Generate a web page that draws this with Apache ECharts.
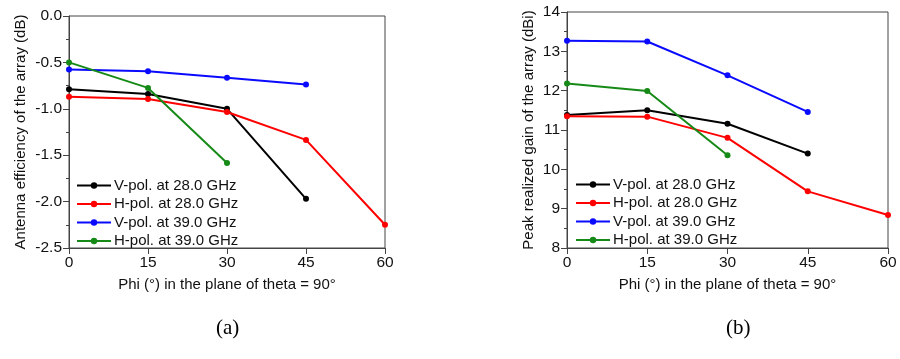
<!DOCTYPE html>
<html>
<head>
<meta charset="utf-8">
<script src="https://cdn.jsdelivr.net/npm/echarts@6/dist/echarts.min.js"></script>
<style>
html,body{margin:0;padding:0;background:#fff;}
#chart{width:900px;height:359px;}
</style>
</head>
<body>
<div id="chart"></div>
<script>
// ---- data ----
var phi = [0, 15, 30, 45, 60];
var seriesNames = ['V-pol. at 28.0 GHz', 'H-pol. at 28.0 GHz', 'V-pol. at 39.0 GHz', 'H-pol. at 39.0 GHz'];
// (a) Antenna efficiency (dB)
var effV28 = [-0.79, -0.84, -1.00, -1.97];
var effH28 = [-0.87, -0.895, -1.035, -1.335, -2.25];
var effV39 = [-0.577, -0.595, -0.666, -0.738];
var effH39 = [-0.50, -0.775, -1.585];
// (b) Peak realized gain (dBi)
var gainV28 = [11.38, 11.50, 11.16, 10.40];
var gainH28 = [11.35, 11.34, 10.80, 9.44, 8.84];
var gainV39 = [13.27, 13.25, 12.39, 11.46];
var gainH39 = [12.18, 11.99, 10.36];
var yTicksA = [-2.5, -2.0, -1.5, -1.0, -0.5, 0.0];
var yTicksB = [8, 9, 10, 11, 12, 13, 14];
var captions = ['(a)', '(b)'];

var colors = ['#000000', '#ff0000', '#0a0aff', '#168a16'];
var FONT = 'Liberation Sans, Arial, sans-serif';

function pairs(vals) {
  return vals.map(function (v, i) { return [phi[i], v]; });
}
function mkSeries(name, vals, idx, gi) {
  return {
    name: name, type: 'line', xAxisIndex: gi, yAxisIndex: gi,
    data: pairs(vals), symbol: 'circle', symbolSize: 6,
    lineStyle: { width: 2, color: colors[idx] },
    itemStyle: { color: colors[idx] },
    emphasis: { disabled: true }, animation: false, z: 3
  };
}
var axisCommon = {
  axisLine: { show: true, onZero: false, lineStyle: { color: '#444', width: 1 } },
  axisTick: { show: true, inside: false, length: 6, lineStyle: { color: '#444' } },
  splitLine: { show: false },
  axisLabel: { color: '#111', fontSize: 15.5, fontFamily: FONT, margin: 7 },
  nameTextStyle: { color: '#111', fontSize: 15, fontFamily: FONT }
};
function xAx(gi) {
  return Object.assign({}, axisCommon, {
    type: 'value', gridIndex: gi, min: phi[0], max: phi[4], interval: 15,
    name: 'Phi (°) in the plane of theta = 90°', nameLocation: 'middle', nameGap: 29
  });
}
function yAx(gi, ticks, name, gap, fmt) {
  return Object.assign({}, axisCommon, {
    type: 'value', gridIndex: gi, min: ticks[0], max: ticks[ticks.length - 1],
    interval: ticks[1] - ticks[0],
    minorTick: { show: true, splitNumber: 2, length: 3, lineStyle: { color: '#444' } },
    axisLabel: Object.assign({}, axisCommon.axisLabel, { formatter: fmt }),
    name: name, nameLocation: 'middle', nameRotate: 90, nameGap: gap
  });
}
var legendCommon = {
  orient: 'vertical', itemWidth: 34, itemHeight: 8, itemGap: 0.5,
  textStyle: { color: '#111', fontSize: 15, lineHeight: 18, fontFamily: FONT, padding: [0, 0, 0, -2] },
  data: seriesNames, selectedMode: false, padding: 0
};

var chart = echarts.init(document.getElementById('chart'), null, { renderer: 'canvas' });
chart.setOption({
  backgroundColor: '#fff',
  animation: false,
  grid: [
    { left: 69, right: 515, top: 16, bottom: 111, show: true, borderColor: '#444', borderWidth: 1 },
    { left: 567, right: 12, top: 12, bottom: 111, show: true, borderColor: '#444', borderWidth: 1 }
  ],
  xAxis: [xAx(0), xAx(1)],
  yAxis: [
    yAx(0, yTicksA, 'Antenna efficiency of the array (dB)', 41, function (v) { return v.toFixed(1); }),
    yAx(1, yTicksB, 'Peak realized gain of the array (dBi)', 31, function (v) { return String(v); })
  ],
  legend: [
    Object.assign({}, legendCommon, { left: 76, top: 176.5 }),
    Object.assign({}, legendCommon, { left: 575, top: 175.5 })
  ],
  series: [
    mkSeries(seriesNames[0], effV28, 0, 0),
    mkSeries(seriesNames[1], effH28, 1, 0),
    mkSeries(seriesNames[2], effV39, 2, 0),
    mkSeries(seriesNames[3], effH39, 3, 0),
    mkSeries(seriesNames[0], gainV28, 0, 1),
    mkSeries(seriesNames[1], gainH28, 1, 1),
    mkSeries(seriesNames[2], gainV39, 2, 1),
    mkSeries(seriesNames[3], gainH39, 3, 1)
  ],
  graphic: [
    { type: 'text', left: 216, top: 318, style: { text: captions[0], fontSize: 21, fontFamily: 'Liberation Serif, Times New Roman, serif', fill: '#000' } },
    { type: 'text', left: 726, top: 318, style: { text: captions[1], fontSize: 21, fontFamily: 'Liberation Serif, Times New Roman, serif', fill: '#000' } }
  ]
});
</script>
</body>
</html>
